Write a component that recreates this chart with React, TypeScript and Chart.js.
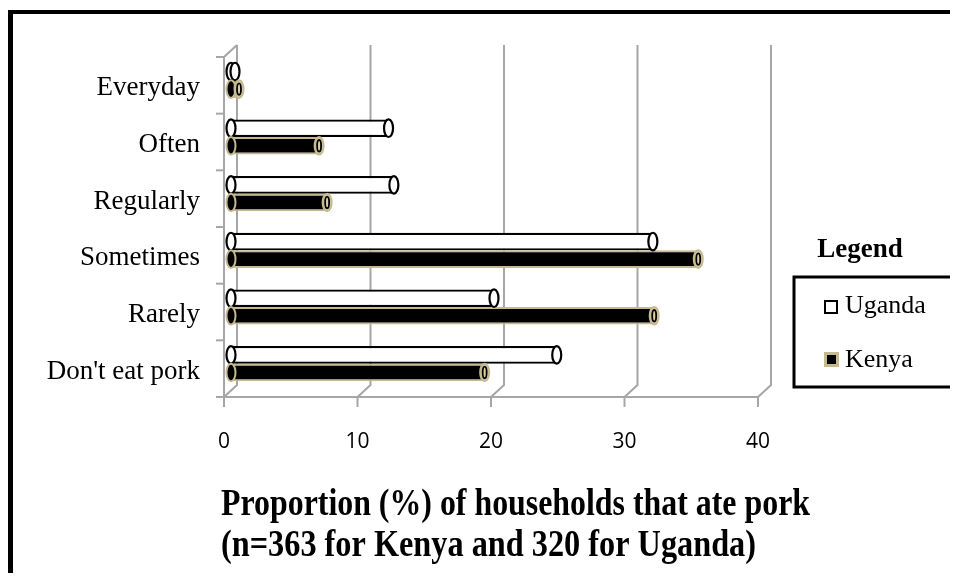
import React, { useEffect, useRef } from "react";
import { Chart, registerables } from "chart.js";

Chart.register(...registerables);

const categories = ["Everyday", "Often", "Regularly", "Sometimes", "Rarely", "Don't eat pork"];
const ugandaValues = [0.3, 11.8, 12.2, 31.6, 19.7, 24.4];
const kenyaValues = [0.6, 6.6, 7.2, 35.0, 31.7, 19.0];
const seriesNames = ["Uganda", "Kenya"];
const xTickValues = [0, 10, 20, 30, 40];
const titleLines = ["Proportion (%) of households that ate pork", "(n=363 for Kenya and 320 for Uganda)"];
const legendTitle = "Legend";

const TAN = "#C4B98F";
const GRID = "#A6A6A6";
const SERIF = "'Liberation Serif', 'Times New Roman', serif";

const threeD = {
  id: "threeD",
  beforeDraw(chart: any) {
    const ctx = chart.ctx;
    const xs = chart.scales.x;
    const top = chart.chartArea.top;
    const bottom = chart.chartArea.bottom;
    const dx = 13, dy = -12;
    ctx.save();
    ctx.fillStyle = "#000";
    ctx.fillRect(0, 2, chart.width, 4);
    ctx.fillRect(0, 2, 5, chart.height);
    ctx.strokeStyle = GRID;
    ctx.lineWidth = 2;
    xTickValues.forEach((v) => {
      const px = xs.getPixelForValue(v);
      ctx.beginPath();
      ctx.moveTo(px + dx, top + dy);
      ctx.lineTo(px + dx, bottom + dy);
      ctx.lineTo(px, bottom);
      ctx.stroke();
      ctx.beginPath();
      ctx.moveTo(px, bottom);
      ctx.lineTo(px, bottom + 10);
      ctx.stroke();
    });
    const left = xs.getPixelForValue(0);
    ctx.beginPath();
    ctx.moveTo(left - 8, bottom);
    ctx.lineTo(xs.getPixelForValue(40), bottom);
    ctx.stroke();
    ctx.beginPath();
    ctx.moveTo(left + dx, top + dy);
    ctx.lineTo(left, top);
    ctx.lineTo(left, bottom);
    ctx.stroke();
    const n = categories.length;
    for (let i = 0; i <= n; i++) {
      const py = top + ((bottom - top) * i) / n;
      ctx.beginPath();
      ctx.moveTo(left - 8, py);
      ctx.lineTo(left, py);
      ctx.stroke();
    }
    ctx.restore();
  },
  beforeDatasetsDraw(chart: any) {
    chart.ctx.save();
    chart.ctx.translate(7, -5);
  },
  afterDatasetsDraw(chart: any) {
    const ctx = chart.ctx;
    chart.data.datasets.forEach((ds: any, di: number) => {
      const meta = chart.getDatasetMeta(di);
      meta.data.forEach((el: any) => {
        const { x, y, base, height } = el.getProps(["x", "y", "base", "height"], true);
        const ry = height / 2;
        const rx = 4.5;
        if (di === 0) {
          ctx.fillStyle = "#fff";
          ctx.strokeStyle = "#000";
          ctx.lineWidth = 2.2;
          [base, x].forEach((cx) => {
            ctx.beginPath();
            ctx.ellipse(cx, y, rx, ry, 0, 0, Math.PI * 2);
            ctx.fill();
            ctx.stroke();
          });
        } else {
          ctx.lineWidth = 2;
          ctx.strokeStyle = TAN;
          ctx.fillStyle = "#000";
          ctx.beginPath();
          ctx.ellipse(base, y, rx, ry, 0, 0, Math.PI * 2);
          ctx.fill();
          ctx.stroke();
          ctx.fillStyle = "#D9D0AA";
          ctx.beginPath();
          ctx.ellipse(x, y, rx, ry, 0, 0, Math.PI * 2);
          ctx.fill();
          ctx.stroke();
          ctx.strokeStyle = "#000";
          ctx.lineWidth = 1.8;
          ctx.beginPath();
          ctx.ellipse(x, y, 2, ry - 3, 0, 0, Math.PI * 2);
          ctx.stroke();
        }
      });
    });
    ctx.restore();
  },
  afterDraw(chart: any) {
    const ctx = chart.ctx;
    ctx.save();
    ctx.fillStyle = "#000";
    ctx.textBaseline = "alphabetic";
    ctx.font = `bold 27px ${SERIF}`;
    ctx.textAlign = "center";
    ctx.fillText(legendTitle, 852, 249);
    ctx.strokeStyle = "#000";
    ctx.lineWidth = 3;
    ctx.strokeRect(786, 269, 160, 110);
    ctx.textAlign = "left";
    ctx.font = `26px ${SERIF}`;
    const ds = chart.data.datasets;
    ctx.lineWidth = 2;
    ctx.fillStyle = ds[0].backgroundColor;
    ctx.strokeStyle = ds[0].borderColor;
    ctx.fillRect(817, 293, 12, 12);
    ctx.strokeRect(817, 293, 12, 12);
    ctx.fillStyle = "#000";
    ctx.fillText(ds[0].label, 837, 305);
    ctx.lineWidth = 3;
    ctx.fillStyle = ds[1].backgroundColor;
    ctx.strokeStyle = ds[1].borderColor;
    ctx.fillRect(817.5, 345.5, 12, 12);
    ctx.strokeRect(817.5, 345.5, 12, 12);
    ctx.fillStyle = "#000";
    ctx.fillText(ds[1].label, 837, 359);
    ctx.font = `bold 38px ${SERIF}`;
    const targets = [
      { x: 213, y: 507, w: 589 },
      { x: 213, y: 548, w: 535 },
    ];
    titleLines.forEach((line, i) => {
      const t = targets[i];
      const m = ctx.measureText(line).width;
      ctx.save();
      ctx.translate(t.x, t.y);
      ctx.scale(t.w / m, 1);
      ctx.fillText(line, 0, 0);
      ctx.restore();
    });
    ctx.restore();
  },
};

export default function App() {
  const ref = useRef<HTMLCanvasElement>(null);
  useEffect(() => {
    if (!ref.current) return;
    const chart = new Chart(ref.current, {
      type: "bar",
      data: {
        labels: categories,
        datasets: [
          {
            label: seriesNames[0],
            data: ugandaValues,
            backgroundColor: "#ffffff",
            borderColor: "#000000",
            borderWidth: 2.2,
            borderSkipped: false,
          },
          {
            label: seriesNames[1],
            data: kenyaValues,
            backgroundColor: "#000000",
            borderColor: TAN,
            borderWidth: 2,
            borderSkipped: false,
          },
        ],
      },
      options: {
        indexAxis: "y",
        responsive: false,
        animation: false,
        events: [],
        datasets: { bar: { barPercentage: 1, categoryPercentage: 0.62 } },
        layout: { padding: { left: 0, right: 192, top: 49, bottom: 96 } },
        plugins: { legend: { display: false }, tooltip: { enabled: false }, title: { display: false } },
        scales: {
          x: {
            min: 0,
            max: 40,
            grid: { display: false, drawTicks: false },
            border: { display: false },
            afterFit: (s: any) => {
              s.height = 80;
            },
            afterBuildTicks: (s: any) => {
              s.ticks = xTickValues.map((v) => ({ value: v }));
            },
            ticks: {
              padding: 32,
              color: "#000",
              font: { family: "'Open Sans', sans-serif", size: 21 },
            },
          },
          y: {
            grid: { display: false, drawTicks: false },
            border: { display: false },
            afterFit: (s: any) => {
              s.width = 216;
            },
            ticks: {
              padding: 24,
              labelOffset: 3,
              color: "#000",
              font: { family: SERIF, size: 27 },
            },
          },
        },
      },
      plugins: [threeD],
    });
    return () => chart.destroy();
  }, []);
  return <canvas ref={ref} width={942} height={565} style={{ display: "block" }} />;
}
